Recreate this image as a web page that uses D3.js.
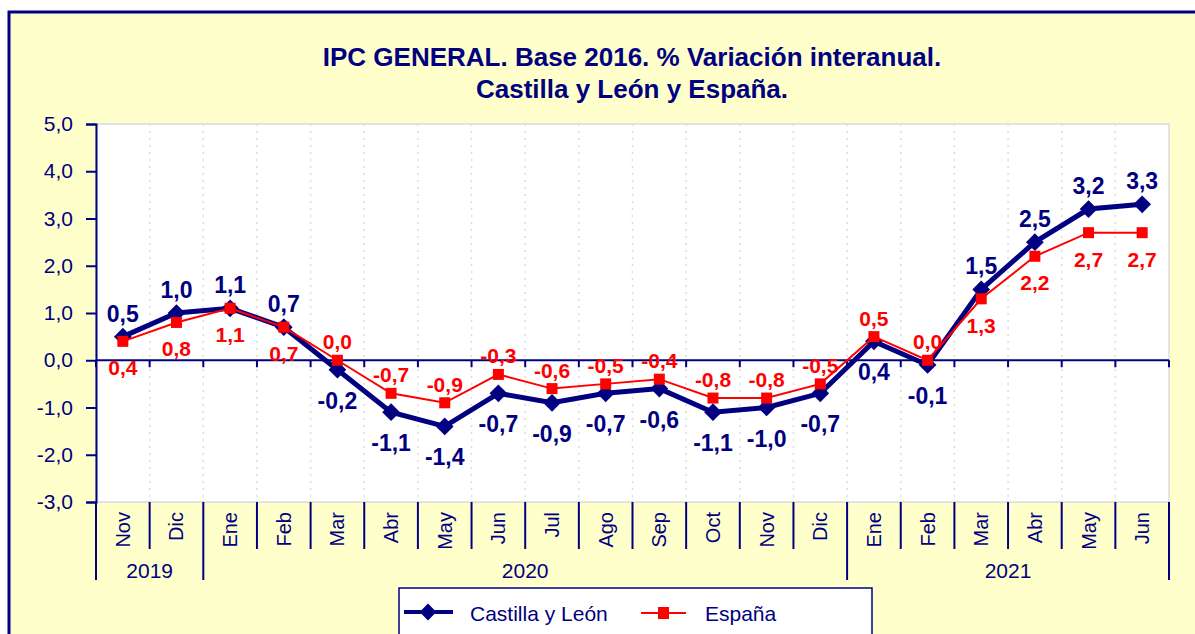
<!DOCTYPE html>
<html>
<head>
<meta charset="utf-8">
<script src="https://cdn.jsdelivr.net/npm/d3@7"></script>
<style>
  body { margin: 0; background: #ffffff; }
  text { font-family: "Liberation Sans", Arial, sans-serif; }
</style>
</head>
<body>
<div id="chart"></div>
<script>
    // data
    var months = ["Nov", "Dic", "Ene", "Feb", "Mar", "Abr", "May", "Jun", "Jul", "Ago",
      "Sep", "Oct", "Nov", "Dic", "Ene", "Feb", "Mar", "Abr", "May", "Jun"];
    var years = [
      { year: "2019", first: 0, last: 1 },
      { year: "2020", first: 2, last: 13 },
      { year: "2021", first: 14, last: 19 }
    ];
    var castillaLeon = [0.5, 1.0, 1.1, 0.7, -0.2, -1.1, -1.4, -0.7, -0.9, -0.7,
      -0.6, -1.1, -1.0, -0.7, 0.4, -0.1, 1.5, 2.5, 3.2, 3.3];
    var espana = [0.4, 0.8, 1.1, 0.7, 0.0, -0.7, -0.9, -0.3, -0.6, -0.5,
      -0.4, -0.8, -0.8, -0.5, 0.5, 0.0, 1.3, 2.2, 2.7, 2.7];
    var yTicks = [-3, -2, -1, 0, 1, 2, 3, 4, 5];

    var W = 1195, H = 634;
    var navy = "#000080", red = "#ff0000";
    var plot = { left: 96, right: 1169, top: 124, bottom: 502 };

    // spanish number format: comma decimal, plain hyphen minus
    var es = d3.formatLocale({ decimal: ",", thousands: ".", grouping: [3], currency: ["", "€"], minus: "-" });
    var fmt = function (v) { return Math.abs(v) < 1e-9 ? "0,0" : es.format(".1f")(v); };

    var svg = d3.select("#chart")
      .append("svg")
      .attr("width", W)
      .attr("height", H);

    // background + outer border
    svg.append("rect")
      .attr("x", 0).attr("y", 0).attr("width", W).attr("height", H)
      .attr("fill", "#ffffff");
    svg.append("rect")
      .attr("x", 9).attr("y", 12).attr("width", W + 20).attr("height", H + 20)
      .attr("fill", "#ffffcc")
      .attr("stroke", navy)
      .attr("stroke-width", 3);

    // title
    var title = svg.append("text")
      .attr("text-anchor", "middle")
      .attr("fill", navy)
      .attr("font-weight", "bold")
      .attr("font-size", 26);
    title.append("tspan").attr("x", 632).attr("y", 66)
      .text("IPC GENERAL. Base 2016. % Variación interanual.");
    title.append("tspan").attr("x", 632).attr("y", 98)
      .text("Castilla y León y España.");

    // scales
    var x = d3.scaleBand()
      .domain(d3.range(months.length))
      .range([plot.left, plot.right]);
    var y = d3.scaleLinear()
      .domain([-3, 5])
      .range([plot.bottom, plot.top]);
    var cx = function (i) { return x(i) + x.bandwidth() / 2; };

    // plot area
    svg.append("rect")
      .attr("x", plot.left).attr("y", plot.top)
      .attr("width", plot.right - plot.left).attr("height", plot.bottom - plot.top)
      .attr("fill", "#ffffff")
      .attr("stroke", "#c8c8d8")
      .attr("stroke-width", 1);

    // vertical dashed grid at category boundaries
    var bounds = d3.range(1, months.length).map(function (i) { return x(i); });
    svg.append("g").selectAll("line")
      .data(bounds)
      .enter().append("line")
      .attr("x1", function (d) { return d; })
      .attr("x2", function (d) { return d; })
      .attr("y1", plot.top).attr("y2", plot.bottom)
      .attr("stroke", "#dcdcdc")
      .attr("stroke-width", 1.5)
      .attr("stroke-dasharray", "2,5");

    // Y axis
    var yAxis = svg.append("g")
      .attr("transform", "translate(" + plot.left + ",0)")
      .call(d3.axisLeft(y).tickValues(yTicks).tickSize(10).tickPadding(13)
        .tickFormat(fmt));
    yAxis.attr("font-size", null).attr("font-family", null);
    yAxis.select(".domain").attr("stroke", navy).attr("stroke-width", 2);
    yAxis.selectAll(".tick line").attr("stroke", navy).attr("stroke-width", 2);
    yAxis.selectAll("text")
      .attr("fill", navy)
      .attr("font-size", 21);

    // category axis along zero
    var allBounds = d3.range(0, months.length + 1).map(function (i) {
      return i < months.length ? x(i) : plot.right;
    });
    svg.append("line")
      .attr("x1", plot.left).attr("x2", plot.right)
      .attr("y1", y(0)).attr("y2", y(0))
      .attr("stroke", navy).attr("stroke-width", 2);
    svg.append("g").selectAll("line")
      .data(allBounds)
      .enter().append("line")
      .attr("x1", function (d) { return d; })
      .attr("x2", function (d) { return d; })
      .attr("y1", y(0)).attr("y2", y(0) + 7)
      .attr("stroke", navy).attr("stroke-width", 2);

    // month labels below the plot
    svg.append("g").selectAll("text")
      .data(months)
      .enter().append("text")
      .attr("transform", function (d, i) {
        return "translate(" + (cx(i) + 7) + "," + (plot.bottom + 10) + ")rotate(-90)";
      })
      .attr("text-anchor", "end")
      .attr("fill", navy)
      .attr("font-size", 20)
      .text(function (d) { return d; });

    // separators between months / years
    var yearBounds = [0];
    years.forEach(function (yr) { yearBounds.push(yr.last + 1); });
    svg.append("g").selectAll("line")
      .data(d3.range(0, months.length + 1))
      .enter().append("line")
      .attr("x1", function (i) { return allBounds[i]; })
      .attr("x2", function (i) { return allBounds[i]; })
      .attr("y1", plot.bottom)
      .attr("y2", function (i) { return yearBounds.indexOf(i) >= 0 ? 580 : 549; })
      .attr("stroke", navy).attr("stroke-width", 2);

    svg.append("g").selectAll("text")
      .data(years)
      .enter().append("text")
      .attr("x", function (d) { return (allBounds[d.first] + allBounds[d.last + 1]) / 2; })
      .attr("y", 578)
      .attr("text-anchor", "middle")
      .attr("fill", navy)
      .attr("font-size", 21)
      .text(function (d) { return d.year; });

    var line = d3.line()
      .x(function (d, i) { return cx(i); })
      .y(function (d) { return y(d); });

    // Castilla y León series (drawn first, España sits on top)
    svg.append("path")
      .datum(castillaLeon)
      .attr("d", line)
      .attr("fill", "none")
      .attr("stroke", navy)
      .attr("stroke-width", 5);
    svg.append("g").selectAll("path")
      .data(castillaLeon)
      .enter().append("path")
      .attr("d", d3.symbol().type(d3.symbolDiamond2).size(200))
      .attr("transform", function (d, i) { return "translate(" + cx(i) + "," + y(d) + ")"; })
      .attr("fill", navy);

    // España series
    svg.append("path")
      .datum(espana)
      .attr("d", line)
      .attr("fill", "none")
      .attr("stroke", red)
      .attr("stroke-width", 2);
    svg.append("g").selectAll("rect")
      .data(espana)
      .enter().append("rect")
      .attr("x", function (d, i) { return cx(i) - 5.5; })
      .attr("y", function (d) { return y(d) - 5.5; })
      .attr("width", 11).attr("height", 11)
      .attr("fill", red);

    // data labels
    svg.append("g").selectAll("text")
      .data(castillaLeon)
      .enter().append("text")
      .attr("x", function (d, i) { return cx(i); })
      .attr("y", function (d, i) { return d >= espana[i] ? y(d) - 15 : y(d) + 39; })
      .attr("text-anchor", "middle")
      .attr("fill", navy)
      .attr("font-weight", "bold")
      .attr("font-size", 23)
      .text(fmt);
    svg.append("g").selectAll("text")
      .data(espana)
      .enter().append("text")
      .attr("x", function (d, i) { return cx(i); })
      .attr("y", function (d, i) { return d > castillaLeon[i] ? y(d) - 11 : y(d) + 34; })
      .attr("text-anchor", "middle")
      .attr("fill", red)
      .attr("font-weight", "bold")
      .attr("font-size", 21)
      .text(fmt);

    // legend
    var lg = svg.append("g");
    lg.append("rect")
      .attr("x", 399).attr("y", 588).attr("width", 473).attr("height", 60)
      .attr("fill", "#ffffff")
      .attr("stroke", navy).attr("stroke-width", 1.5);
    lg.append("line")
      .attr("x1", 404).attr("x2", 453).attr("y1", 612).attr("y2", 612)
      .attr("stroke", navy).attr("stroke-width", 4);
    lg.append("path")
      .attr("d", d3.symbol().type(d3.symbolDiamond2).size(180))
      .attr("transform", "translate(428,612)")
      .attr("fill", navy);
    lg.append("text")
      .attr("x", 470).attr("y", 621)
      .attr("fill", navy).attr("font-size", 21)
      .text("Castilla y León");
    lg.append("line")
      .attr("x1", 641).attr("x2", 686).attr("y1", 613).attr("y2", 613)
      .attr("stroke", red).attr("stroke-width", 2);
    lg.append("rect")
      .attr("x", 658).attr("y", 607).attr("width", 11).attr("height", 12)
      .attr("fill", red);
    lg.append("text")
      .attr("x", 705).attr("y", 621)
      .attr("fill", navy).attr("font-size", 21)
      .text("España");
</script>
</body>
</html>
